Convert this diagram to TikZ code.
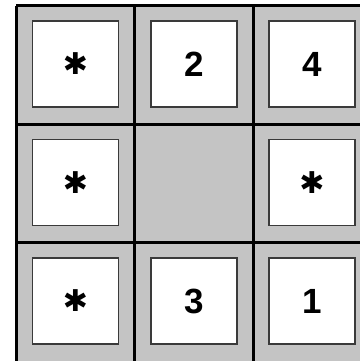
\documentclass[tikz,border=0pt]{standalone}
\usepackage{fontspec}
\setmainfont{Liberation Sans}
\newfontfamily\symfont{DejaVu Sans}
\definecolor{cellgray}{HTML}{C4C4C4}
\definecolor{boxline}{HTML}{3A3A3A}
\begin{document}
\begin{tikzpicture}[x=1pt,y=-1pt,
  gridline/.style={line width=3pt,black},
  cellbox/.style={draw=boxline,fill=white,line width=1.6pt,minimum width=86pt,minimum height=86pt,inner sep=0pt,
    font=\fontsize{35}{35}\selectfont\bfseries},
  starbox/.style={cellbox,font=\fontsize{30}{30}\selectfont\symfont\bfseries}]
\useasboundingbox (0,0) rectangle (359,361);
\fill[white] (0,0) rectangle (359,361);
\fill[cellgray] (16,6) rectangle (372,372);
% grid lines
\draw[gridline] (16,6) -- (372,6);
\draw[gridline] (16,124) -- (372,124);
\draw[gridline] (16,242) -- (372,242);
\draw[gridline] (16,6) -- (16,372);
\draw[gridline] (134.5,6) -- (134.5,372);
\draw[gridline] (253.5,6) -- (253.5,372);
% boxes
\node[starbox] (a) at (75.5,64) {✱};
\node[cellbox] (b) at (194,64) {2};
\node[cellbox] (c) at (312,64) {4};
\node[starbox] (d) at (75.5,182.5) {✱};
\node[starbox] (e) at (312,182.5) {✱};
\node[starbox] (f) at (75.5,301) {✱};
\node[cellbox] (g) at (194,301) {3};
\node[cellbox] (h) at (312,301) {1};
\end{tikzpicture}
\end{document}
